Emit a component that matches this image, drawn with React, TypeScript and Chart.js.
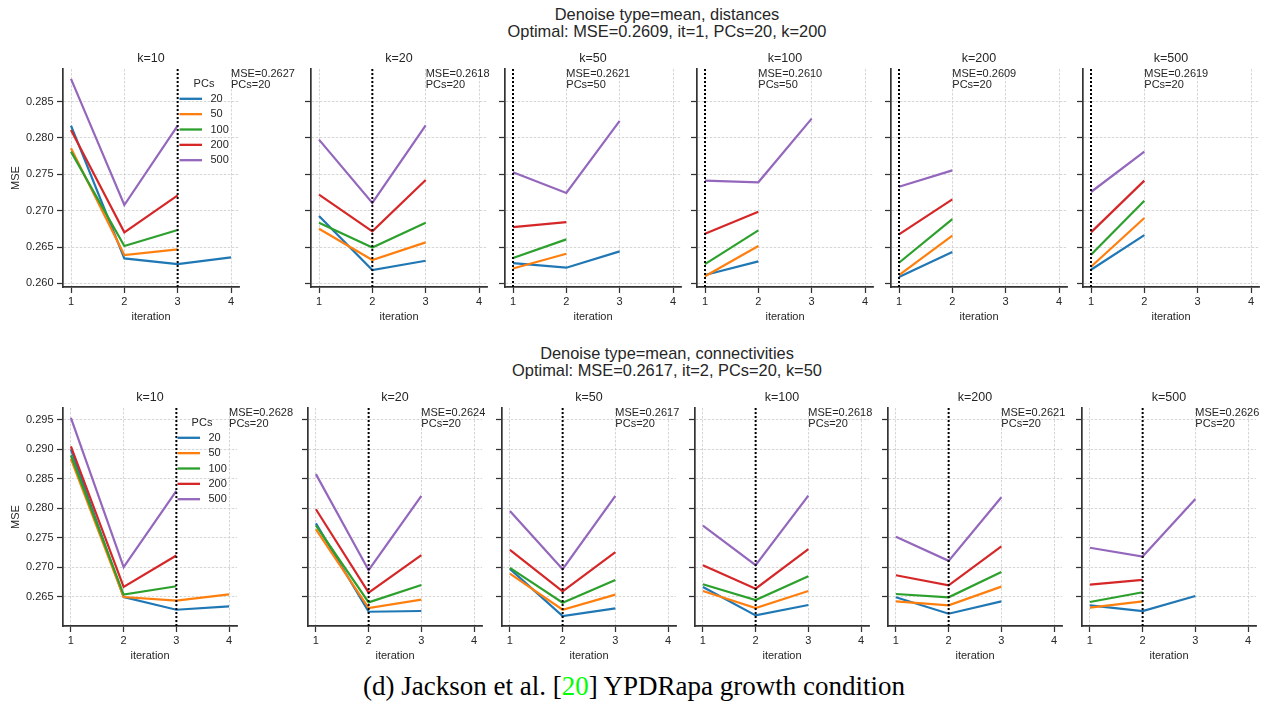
import React, { useEffect, useRef } from "react";
import { Chart, registerables } from "chart.js";

Chart.register(...registerables);

const SANS = "'Liberation Sans', Arial, Helvetica, sans-serif";
const SERIF = "'Liberation Serif', 'Times New Roman', serif";
const TEXT_COLOR = "#262626";
const SPINE_COLOR = "#333333";
const GRID_COLOR = "#cccccc";
const SERIES_COLORS = ["#1f77b4", "#ff7f0e", "#2ca02c", "#d62728", "#9467bd"];

// ---------------- data ----------------
const kValues = [10, 20, 50, 100, 200, 500];
const pcsValues = [20, 50, 100, 200, 500];
const iterations = [1, 2, 3, 4];
const distancesYTicks = [0.26, 0.265, 0.27, 0.275, 0.28, 0.285];
const connectivitiesYTicks = [0.265, 0.27, 0.275, 0.28, 0.285, 0.29, 0.295];

// Denoise type=mean, distances: MSE per iteration, one list per k panel
const distPC20 = [
  [0.2817, 0.26344, 0.26266, 0.26358],
  [0.26927, 0.26183, 0.26312],
  [0.2628, 0.26216, 0.2644],
  [0.26115, 0.26303],
  [0.26087, 0.26431],
  [0.26188, 0.26665],
];
const distPC50 = [
  [0.27858, 0.2639, 0.26468],
  [0.26752, 0.26321, 0.26564],
  [0.26206, 0.26408],
  [0.26098, 0.26514],
  [0.26115, 0.26656],
  [0.26229, 0.26899],
];
const distPC100 = [
  [0.27812, 0.26514, 0.26734],
  [0.26835, 0.26495, 0.26835],
  [0.26349, 0.26606],
  [0.26266, 0.26729],
  [0.26284, 0.26885],
  [0.26394, 0.27138],
];
const distPC200 = [
  [0.2811, 0.26702, 0.27211],
  [0.2722, 0.26716, 0.27422],
  [0.26775, 0.26844],
  [0.26683, 0.26986],
  [0.26674, 0.27156],
  [0.26702, 0.27413],
];
const distPC500 = [
  [0.28812, 0.27078, 0.2817],
  [0.27977, 0.27106, 0.28174],
  [0.27528, 0.27243, 0.28234],
  [0.27413, 0.2739, 0.28266],
  [0.2733, 0.27555],
  [0.27257, 0.27812],
];
const distBestIteration = [3, 2, 1, 1, 1, 1];
const distBestMSE = ["0.2627", "0.2618", "0.2621", "0.2610", "0.2609", "0.2619"];
const distBestPCs = [20, 20, 50, 50, 20, 20];

// Denoise type=mean, connectivities
const connPC20 = [
  [0.29, 0.26494, 0.26278, 0.26335],
  [0.27744, 0.26244, 0.26256],
  [0.26972, 0.2617, 0.26301],
  [0.26665, 0.26182, 0.26358],
  [0.26489, 0.2621, 0.2642],
  [0.26352, 0.26256, 0.26511],
];
const connPC50 = [
  [0.2884, 0.26494, 0.26432, 0.2654],
  [0.27642, 0.26307, 0.26449],
  [0.26892, 0.26278, 0.26534],
  [0.26597, 0.26307, 0.26597],
  [0.2642, 0.26352, 0.2667],
  [0.26313, 0.2642],
];
const connPC100 = [
  [0.289, 0.26534, 0.26676],
  [0.2771, 0.26403, 0.26699],
  [0.26989, 0.26398, 0.26784],
  [0.2671, 0.26443, 0.26847],
  [0.26545, 0.26489, 0.2692],
  [0.26409, 0.26574],
];
const connPC200 = [
  [0.29051, 0.26665, 0.27199],
  [0.27983, 0.26568, 0.27205],
  [0.27295, 0.26591, 0.27256],
  [0.27034, 0.26636, 0.27307],
  [0.26864, 0.26693, 0.27352],
  [0.26705, 0.26784],
];
const connPC500 = [
  [0.29534, 0.27, 0.28295],
  [0.2858, 0.26949, 0.2821],
  [0.27955, 0.26966, 0.2821],
  [0.27705, 0.27034, 0.28216],
  [0.27517, 0.27108, 0.28188],
  [0.2733, 0.27182, 0.28159],
];
const connBestIteration = [3, 2, 2, 2, 2, 2];
const connBestMSE = ["0.2628", "0.2624", "0.2617", "0.2618", "0.2621", "0.2626"];
const connBestPCs = [20, 20, 20, 20, 20, 20];

const distTitle = ["Denoise type=mean, distances", "Optimal: MSE=0.2609, it=1, PCs=20, k=200"];
const connTitle = ["Denoise type=mean, connectivities", "Optimal: MSE=0.2617, it=2, PCs=20, k=50"];

// ---------------- layout ----------------
type RowSpec = {
  series: number[][][];
  bestIt: number[];
  bestMSE: string[];
  bestPCs: number[];
  yTicks: number[];
  plotTop: number;
  plotH: number;
  plotW: number;
  spines: number[];
};

const distancesRow: RowSpec = {
  series: [distPC20, distPC50, distPC100, distPC200, distPC500],
  bestIt: distBestIteration,
  bestMSE: distBestMSE,
  bestPCs: distBestPCs,
  yTicks: distancesYTicks,
  plotTop: 69,
  plotH: 218,
  plotW: 176,
  spines: [63, 311, 505, 697, 891, 1083],
};

const connectivitiesRow: RowSpec = {
  series: [connPC20, connPC50, connPC100, connPC200, connPC500],
  bestIt: connBestIteration,
  bestMSE: connBestMSE,
  bestPCs: connBestPCs,
  yTicks: connectivitiesYTicks,
  plotTop: 408,
  plotH: 218,
  plotW: 174,
  spines: [63, 308, 502, 695, 888, 1082],
};

function yRange(series: number[][][]): [number, number] {
  const all: number[] = [];
  series.forEach((s) => s.forEach((p) => p.forEach((v) => all.push(v))));
  const lo = Math.min(...all);
  const hi = Math.max(...all);
  const m = (hi - lo) * 0.05;
  return [lo - m, hi + m];
}

const TITLE_H = 20;
const XAXIS_H = 40;
const EXTRA_R = 70;

function Panel({ row, idx }: { row: RowSpec; idx: number }) {
  const ref = useRef<HTMLCanvasElement | null>(null);
  const spine = row.spines[idx];
  const left = idx === 0 ? 0 : spine - 12;
  const yw = spine - left;
  const width = yw + row.plotW + EXTRA_R;
  const height = TITLE_H + row.plotH + XAXIS_H;
  const top = row.plotTop - TITLE_H;
  const first = idx === 0;

  useEffect(() => {
    if (!ref.current) return;
    const [yMin, yMax] = yRange(row.series);
    const best = row.bestIt[idx];

    const extras = {
      id: "extras" + idx,
      afterDatasetsDraw(chart: any) {
        const { ctx, chartArea, scales } = chart;
        const px = scales.x.getPixelForValue(best);
        ctx.save();
        ctx.strokeStyle = "#000000";
        ctx.lineWidth = 2;
        ctx.setLineDash([2, 2]);
        ctx.beginPath();
        ctx.moveTo(px, chartArea.top);
        ctx.lineTo(px, chartArea.bottom);
        ctx.stroke();
        ctx.restore();
      },
      afterDraw(chart: any) {
        const { ctx, chartArea, scales } = chart;
        ctx.save();
        ctx.fillStyle = TEXT_COLOR;
        ctx.font = `11px ${SANS}`;
        ctx.textAlign = "left";
        ctx.textBaseline = "middle";
        const ax = scales.x.getPixelForValue(best + 1);
        ctx.fillText(`MSE=${row.bestMSE[idx]}`, ax, chartArea.top + 4.8);
        ctx.fillText(`PCs=${row.bestPCs[idx]}`, ax, chartArea.top + 16.3);
        if (first) {
          const r = chartArea.right;
          ctx.textAlign = "center";
          ctx.fillText("PCs", r - 35, chartArea.top + 14.8);
          ctx.textAlign = "left";
          chart.data.datasets.forEach((ds: any, i: number) => {
            const y = chartArea.top + 29.8 + i * 15.35;
            ctx.strokeStyle = ds.borderColor;
            ctx.lineWidth = 2.3;
            ctx.beginPath();
            ctx.moveTo(r - 59.5, y);
            ctx.lineTo(r - 37, y);
            ctx.stroke();
            ctx.fillText(ds.label, r - 28.5, y);
          });
        }
        ctx.restore();
      },
    };

    const chart = new Chart(ref.current, {
      type: "line",
      data: {
        datasets: pcsValues.map((pc, j) => ({
          label: String(pc),
          data: row.series[j][idx].map((v, t) => ({ x: iterations[t], y: v })),
          borderColor: SERIES_COLORS[j],
          backgroundColor: SERIES_COLORS[j],
          borderWidth: 2.2,
          pointRadius: 0,
          tension: 0,
          fill: false,
          order: pcsValues.length - 1 - j,
        })),
      },
      options: {
        animation: false,
        responsive: false,
        devicePixelRatio: 1,
        events: [],
        layout: { autoPadding: false, padding: { left: 0, top: 0, right: EXTRA_R, bottom: 0 } },
        plugins: {
          legend: { display: false },
          tooltip: { enabled: false },
          title: {
            display: true,
            text: `k=${kValues[idx]}`,
            fullSize: false,
            color: TEXT_COLOR,
            font: { family: SANS, size: 12.5, weight: "normal", lineHeight: 1.2 },
            padding: { top: 2.5, bottom: 2.5 },
          },
        },
        scales: {
          x: {
            type: "linear",
            min: 0.85,
            max: 4.15,
            afterBuildTicks: (s: any) => {
              s.ticks = iterations.map((v) => ({ value: v }));
            },
            afterFit: (s: any) => {
              s.height = XAXIS_H;
            },
            ticks: {
              color: TEXT_COLOR,
              font: { family: SANS, size: 11 },
              padding: 2.4,
              maxRotation: 0,
              autoSkip: false,
              callback: (v: any) => String(v),
            },
            grid: {
              color: GRID_COLOR,
              lineWidth: 0.8,
              tickLength: 6,
              tickColor: SPINE_COLOR,
              tickWidth: 1.25,
            },
            border: { color: SPINE_COLOR, width: 1.7, dash: [2.5, 1.5] },
            title: {
              display: true,
              text: "iteration",
              color: TEXT_COLOR,
              font: { family: SANS, size: 11 },
              padding: { top: 0, bottom: 3.6 },
            },
          },
          y: {
            type: "linear",
            min: yMin,
            max: yMax,
            afterBuildTicks: (s: any) => {
              s.ticks = row.yTicks.map((v) => ({ value: v }));
            },
            afterFit: (s: any) => {
              s.width = yw;
            },
            ticks: {
              display: first,
              color: TEXT_COLOR,
              font: { family: SANS, size: 11 },
              padding: 3.5,
              callback: (v: any) => Number(v).toFixed(3),
            },
            grid: {
              color: GRID_COLOR,
              lineWidth: 0.8,
              tickLength: 6,
              tickColor: SPINE_COLOR,
              tickWidth: 1.25,
            },
            border: { color: SPINE_COLOR, width: 1.7, dash: [2.5, 1.5] },
            title: {
              display: first,
              text: "MSE",
              color: TEXT_COLOR,
              font: { family: SANS, size: 11 },
              padding: { top: 9.1, bottom: 0 },
            },
          },
        },
      },
      plugins: [extras],
    } as any);
    return () => chart.destroy();
  }, []);

  return (
    <canvas
      ref={ref}
      width={width}
      height={height}
      style={{ position: "absolute", left, top, width, height }}
    />
  );
}

function SupTitle({ lines, centerY }: { lines: string[]; centerY: number }) {
  return (
    <div
      style={{
        position: "absolute",
        left: 667,
        top: centerY - 8.5,
        transform: "translateX(-50%)",
        fontFamily: SANS,
        fontSize: 16.4,
        lineHeight: "17px",
        color: TEXT_COLOR,
        textAlign: "center",
        whiteSpace: "nowrap",
      }}
    >
      {lines.map((l) => (
        <div key={l}>{l}</div>
      ))}
    </div>
  );
}

export default function App() {
  return (
    <div
      style={{
        position: "absolute",
        left: 0,
        top: 0,
        width: 1265,
        height: 702,
        overflow: "hidden",
        background: "#ffffff",
      }}
    >
      <SupTitle lines={distTitle} centerY={14} />
      <SupTitle lines={connTitle} centerY={353} />
      {kValues.map((k, i) => (
        <Panel key={"d" + k} row={distancesRow} idx={i} />
      ))}
      {kValues.map((k, i) => (
        <Panel key={"c" + k} row={connectivitiesRow} idx={i} />
      ))}
      <div
        style={{
          position: "absolute",
          left: 634,
          top: 686 - 16,
          transform: "translateX(-50%)",
          fontFamily: SERIF,
          fontSize: 27,
          lineHeight: "32px",
          color: "#000000",
          whiteSpace: "nowrap",
        }}
      >
        (d) Jackson et al. [<span style={{ color: "#00ff00" }}>20</span>] YPDRapa growth condition
      </div>
    </div>
  );
}
